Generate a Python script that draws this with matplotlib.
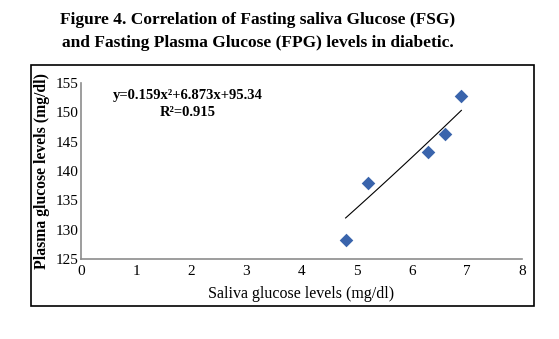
import matplotlib
matplotlib.use("Agg")
import matplotlib.pyplot as plt
import numpy as np
from matplotlib.patches import Rectangle

# Saliva vs plasma glucose (mg/dl)
saliva = [4.8, 5.2, 6.3, 6.6, 6.9]
plasma = [128.3, 138.0, 143.3, 146.3, 152.8]

# polynomial trendline as printed on the chart
trend_coef = [0.159, 6.873, 95.34]
r_squared = 0.915

x_ticks = [0, 1, 2, 3, 4, 5, 6, 7, 8]
y_ticks = [125, 130, 135, 140, 145, 150, 155]

serif = ["Liberation Serif", "DejaVu Serif"]

fig = plt.figure(figsize=(5.59, 3.39), dpi=100)

# outer frame around the chart area
fig.patches.append(Rectangle((31 / 559, 1 - 306 / 339), (534 - 31) / 559, (306 - 65) / 339,
                             transform=fig.transFigure, fill=False, edgecolor="black",
                             linewidth=1.2))

fig.text(258 / 559, 1 - 20 / 339, "Figure 4. Correlation of Fasting saliva Glucose (FSG)",
         ha="center", va="center", fontsize=12.5, fontweight="bold", family=serif)
fig.text(258 / 559, 1 - 43 / 339, "and Fasting Plasma Glucose (FPG) levels in diabetic.",
         ha="center", va="center", fontsize=12.5, fontweight="bold", family=serif)

ax = fig.add_axes([81 / 559, 1 - 259 / 339, (522 - 81) / 559, (259 - 83) / 339])

ax.scatter(saliva, plasma, marker="D", s=48, color="#3a64ac", zorder=3, linewidths=0)

xs = np.linspace(min(saliva), max(saliva), 50)
ax.plot(xs, np.polyval(trend_coef, xs), color="black", linewidth=0.8)

ax.set_xlim(0, 8)
ax.set_ylim(125, 155)
ax.set_xticks(x_ticks)
ax.set_yticks(y_ticks)
ax.tick_params(length=0, labelsize=11)
ax.tick_params(axis="y", pad=2)
ax.tick_params(axis="x", pad=4)
for lab in ax.get_xticklabels() + ax.get_yticklabels():
    lab.set_family(serif)

for side in ["top", "right"]:
    ax.spines[side].set_visible(False)
for side in ["left", "bottom"]:
    ax.spines[side].set_color("#8c8c8c")
    ax.spines[side].set_linewidth(1.2)

ax.set_xlabel("Saliva glucose levels (mg/dl)", fontsize=11.5, family=serif, labelpad=6)
ax.set_ylabel("Plasma glucose levels (mg/dl)", fontsize=11.3, fontweight="bold",
              family=serif, labelpad=4)

ax.text(188 / 559, 1 - 95 / 339, "y=0.159x²+6.873x+95.34", transform=fig.transFigure,
        ha="center", va="center", fontsize=10.5, fontweight="bold", family=serif)
ax.text(188 / 559, 1 - 113 / 339, "R²=%.3f" % r_squared, transform=fig.transFigure,
        ha="center", va="center", fontsize=10.5, fontweight="bold", family=serif)

fig.savefig("out.png", dpi=100)
